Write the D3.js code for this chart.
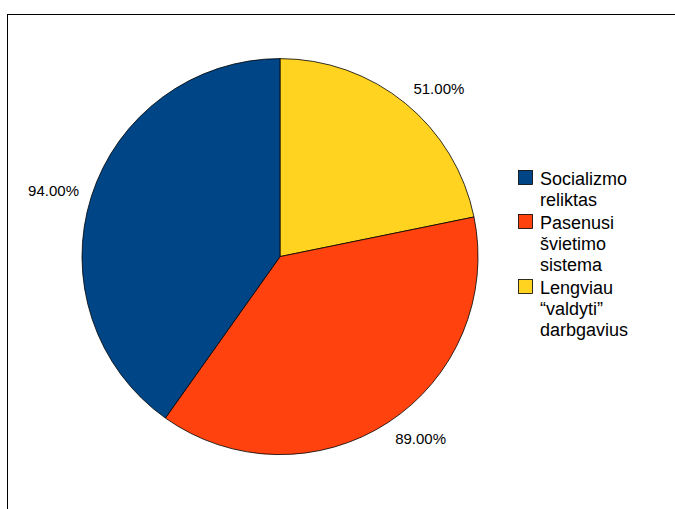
<!DOCTYPE html>
<html><head><meta charset="utf-8">
<script src="https://cdn.jsdelivr.net/npm/d3@7"></script>
<style>body{margin:0;background:#fff}svg{display:block}text{font-family:"Liberation Sans",Arial,sans-serif;fill:#000}</style>
</head><body>
<script>
const categories = ["Socializmo reliktas", "Pasenusi švietimo sistema", "Lengviau “valdyti” darbgavius"];
const legendLines = [["Socializmo","reliktas"],["Pasenusi","švietimo","sistema"],["Lengviau","“valdyti”","darbgavius"]];
const values = [94, 89, 51];
const colors = ["#004586", "#ff420e", "#ffd320"];
const labelFormat = d3.format(".2f");

const W = 675, H = 509;
const svg = d3.select("body").append("svg").attr("width", W).attr("height", H);
svg.append("rect").attr("x", 7.5).attr("y", 14.5).attr("width", 700).attr("height", 600)
  .attr("fill", "#fff").attr("stroke", "#000").attr("stroke-width", 1);

const cx = 280, cy = 256.6, r = 198;
// slices drawn clockwise from 12 o'clock: yellow, red, blue
const order = [2, 1, 0];
const pie = d3.pie().sort(null).value(i => values[i]);
const arcs = pie(order);
const arc = d3.arc().innerRadius(0).outerRadius(r);
const g = svg.append("g").attr("transform", `translate(${cx},${cy})`);
g.selectAll("path").data(arcs).join("path")
  .attr("d", arc).attr("fill", d => colors[d.data])
  .attr("stroke", "#000").attr("stroke-width", 0.8).attr("stroke-linejoin", "round");

const D = 211, th = 11;
g.selectAll("text.lbl").data(arcs).join("text").attr("class", "lbl")
  .each(function(d) {
    const a = (d.startAngle + d.endAngle) / 2;
    const s = Math.sin(a), c = Math.cos(a);
    const x = s * D, y = -c * D;
    const yc = y - c * th / 2 + th / 2;
    d3.select(this).attr("x", x).attr("y", yc)
      .attr("text-anchor", Math.abs(s) < 0.1 ? "middle" : (s > 0 ? "start" : "end"))
      .style("font-size", "15px")
      .text(labelFormat(values[d.data]) + "%");
  });

// legend
const lg = svg.append("g");
let y = 170;
const lineH = 21, gap = 2;
categories.forEach((cat, i) => {
  lg.append("rect").attr("x", 518.5).attr("y", y + 0.5).attr("width", 14).attr("height", 14)
    .attr("fill", colors[i]).attr("stroke", "#000").attr("stroke-width", 0.8);
  const t = lg.append("text").attr("x", 540).attr("y", y + 15).style("font-size", "18px");
  legendLines[i].forEach((ln, j) => {
    t.append("tspan").attr("x", 540).attr("dy", j === 0 ? 0 : lineH).text(ln);
  });
  y += legendLines[i].length * lineH + gap;
});
</script>
</body></html>
